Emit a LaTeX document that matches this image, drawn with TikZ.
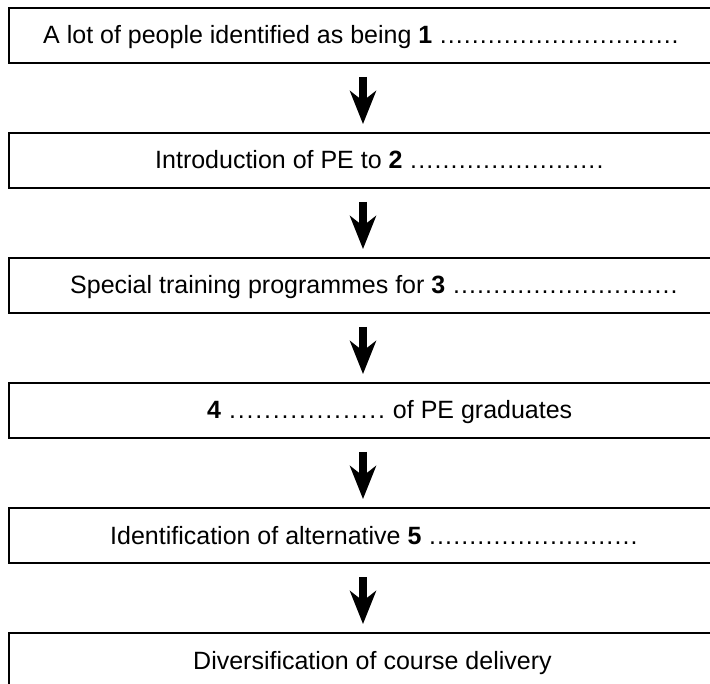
\documentclass[tikz,border=0pt]{standalone}
\usepackage{fontspec}
\setmainfont{Liberation Sans}
\usetikzlibrary{arrows.meta}
\newcommand{\dts}[1]{\xleaders\hbox to #1{\hss.\hss}\hfill}
\newcommand{\fixline}[2]{\hbox to #1{#2}}
\tikzset{
  flowbox/.style={draw=black, line width=2pt, rectangle, minimum width=708pt, minimum height=55pt, inner sep=0pt, anchor=north west},
  label/.style={anchor=base west, inner sep=0pt, font=\fontsize{25}{30}\selectfont},
  flowarrow/.style={line width=8pt, -{Stealth[length=33pt, width=26pt, inset=10pt]}}
}
\begin{document}
\begin{tikzpicture}[x=1pt, y=-1pt]
\useasboundingbox (0,0) rectangle (710,684);
\fill[white] (0,0) rectangle (710,684);
\node[flowbox] (b1) at (8,7) {};
\node[flowbox] (b2) at (8,132) {};
\node[flowbox] (b3) at (8,257) {};
\node[flowbox] (b4) at (8,382) {};
\node[flowbox] (b5) at (8,507) {};
\node[flowbox, minimum height=80pt] (b6) at (8,632) {};
\node[label] (t1) at (43,44) {\fixline{636pt}{A lot of people identified as being \textbf{1} \dts{7.8pt}}};
\node[label] (t2) at (155,169) {\fixline{449pt}{Introduction of PE to \textbf{2} \dts{7.8pt}}};
\node[label] (t3) at (70,294) {\fixline{608pt}{Special training programmes for \textbf{3} \dts{7.8pt}}};
\node[label] (t4) at (207,419) {\fixline{365pt}{\textbf{4} \dts{8.6pt} of PE graduates}};
\node[label] (t5) at (110,544) {\fixline{528pt}{Identification of alternative \textbf{5} \dts{7.8pt}}};
\node[label] (t6) at (193,669) {Diversification of course delivery};
\foreach \a/\b in {b1/b2,b2/b3,b3/b4,b4/b5,b5/b6}
  \draw[flowarrow] ([yshift=-13pt]\a.south) -- ([yshift=8pt]\b.north);
\end{tikzpicture}
\end{document}
